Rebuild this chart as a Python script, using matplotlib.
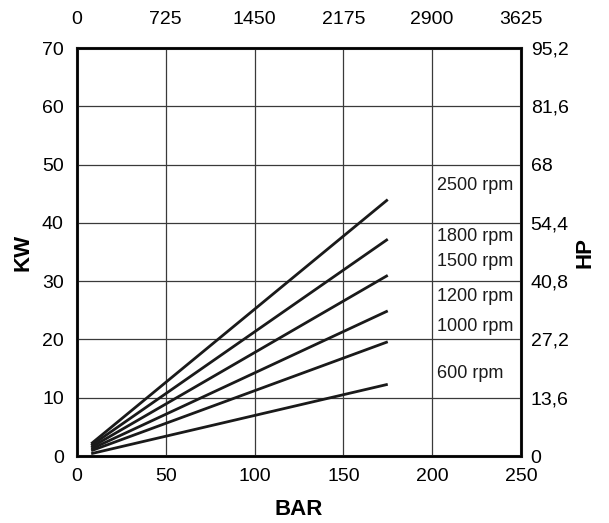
import numpy as np
import matplotlib.pyplot as plt

plt.rcParams['font.family'] = ['Liberation Sans', 'DejaVu Sans']

# dane (BAR -> KW)
bar_start = 8
bar_end = 175
kw_start = [2.1, 1.8, 1.5, 1.2, 0.9, 0.4]
kw_end = [44.0, 37.2, 31.0, 24.9, 19.6, 12.3]
rpm_labels = ['2500 rpm', '1800 rpm', '1500 rpm', '1200 rpm', '1000 rpm', '600 rpm']
label_y = [46.5, 37.6, 33.3, 27.3, 22.3, 14.1]

x_ticks = [0, 50, 100, 150, 200, 250]
y_ticks = [0, 10, 20, 30, 40, 50, 60, 70]
psi_labels = ['0', '725', '1450', '2175', '2900', '3625']
hp_labels = ['0', '13,6', '27,2', '40,8', '54,4', '68', '81,6', '95,2']

fig = plt.figure(figsize=(6.09, 5.23), dpi=100)
ax = fig.add_axes([0.1264, 0.1281, 0.729, 0.780])

for ks, ke in zip(kw_start, kw_end):
    ax.plot([bar_start, bar_end], [ks, ke], color='#1a1a1a', lw=2.0, solid_capstyle='butt')

for txt, ly in zip(rpm_labels, label_y):
    ax.text(203, ly, txt, fontsize=13, va='center', ha='left', color='#1a1a1a')

ax.set_xlim(0, 250)
ax.set_ylim(0, 70)
ax.set_xticks(x_ticks)
ax.set_yticks(y_ticks)
ax.grid(True, color='#3a3a3a', lw=0.9)
ax.tick_params(axis='x', length=0, labelsize=14, pad=8.5)
ax.tick_params(axis='y', length=0, labelsize=14, pad=9.5)
for s in ax.spines.values():
    s.set_linewidth(2.2)
    s.set_color('#1a1a1a')
ax.set_xlabel('BAR', fontsize=16, fontweight='bold', labelpad=10)
ax.set_ylabel('KW', fontsize=16, fontweight='bold', labelpad=6)

# gorna os (PSI)
ax_top = ax.twiny()
ax_top.set_xlim(0, 250)
ax_top.set_xticks(x_ticks)
ax_top.set_xticklabels(psi_labels)
ax_top.tick_params(length=0, labelsize=14, pad=14.5)

# prawa os (HP)
ax_r = ax.twinx()
ax_r.set_ylim(0, 70)
ax_r.set_yticks(y_ticks)
ax_r.set_yticklabels(hp_labels)
ax_r.tick_params(length=0, labelsize=14, pad=7)
ax_r.set_ylabel('HP', fontsize=16, fontweight='bold', labelpad=4)

fig.savefig('out.png', dpi=100)
